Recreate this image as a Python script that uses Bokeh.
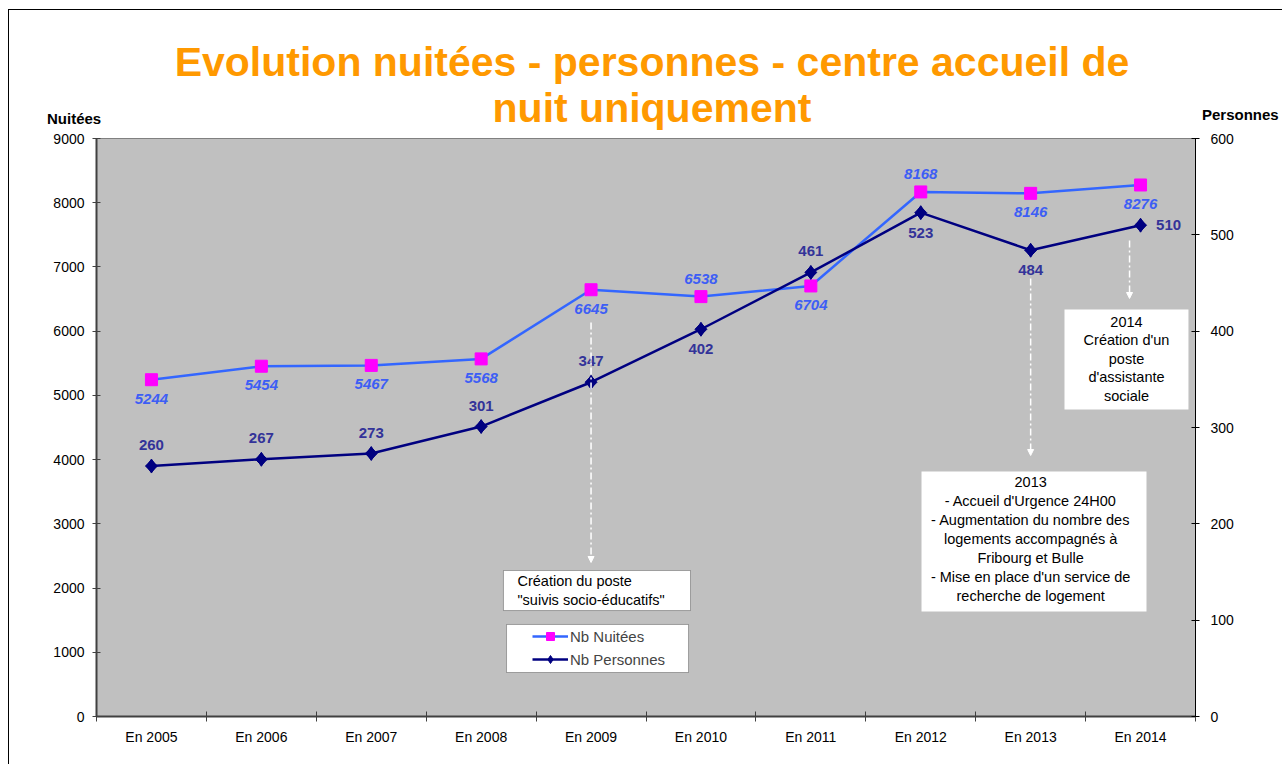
from bokeh.plotting import figure
from bokeh.layouts import column
from bokeh.models import (Range1d, LinearAxis, FixedTicker, Label, Arrow, NormalHead,
                          BoxAnnotation, Legend, LegendItem, ColumnDataSource, Div)
from bokeh.embed import file_html
from bokeh.resources import INLINE
from bokeh.core.properties import value

# ---------------- data ----------------
years = ["En 2005", "En 2006", "En 2007", "En 2008", "En 2009",
         "En 2010", "En 2011", "En 2012", "En 2013", "En 2014"]
nuitees = [5244, 5454, 5467, 5568, 6645, 6538, 6704, 8168, 8146, 8276]
personnes = [260, 267, 273, 301, 347, 402, 461, 523, 484, 510]
nuit_label_side = ["below", "below", "below", "below", "below",
                   "above", "below", "above", "below", "below"]
pers_label_side = ["above", "above", "above", "above", "above",
                   "below", "above", "below", "below", "right"]
left_ticks = [0, 1000, 2000, 3000, 4000, 5000, 6000, 7000, 8000, 9000]
right_ticks = [0, 100, 200, 300, 400, 500, 600]

title_lines = ["Evolution nuitées - personnes - centre accueil de", "nuit uniquement"]
left_title = "Nuitées"
right_title = "Personnes"
note_2009 = ["Création du poste", "\"suivis socio-éducatifs\""]
note_2013 = ["2013", "- Accueil d'Urgence 24H00", "- Augmentation du nombre des",
             "logements accompagnés à", "Fribourg et Bulle",
             "- Mise en place d'un service de", "recherche de logement"]
note_2014 = ["2014", "Création d'un", "poste", "d'assistante", "sociale"]

# ---------------- styles ----------------
FONT = "Liberation Sans"
BG = "#C0C0C0"
NUIT_LINE = "#3366FF"
NUIT_MARK = "#FF00FF"
PERS_LINE = "#000080"
NUIT_TXT = "#3D5EF5"
PERS_TXT = "#333399"
ORANGE = "#FF9900"

W = 1266
HEADER_W = 1282
TOP_H = 128
H = 764 - TOP_H

# ---------------- header (title + axis titles) ----------------
header_html = f"""
<div style="position:relative;width:{HEADER_W}px;height:{TOP_H}px;font-family:'Liberation Sans',Arial,sans-serif;">
  <div style="position:absolute;left:152px;width:1000px;top:39px;text-align:center;color:{ORANGE};
              font-weight:bold;font-size:41px;line-height:46px;white-space:nowrap;">
    {title_lines[0]}<br>{title_lines[1]}</div>
  <div style="position:absolute;left:47px;top:110px;font-weight:bold;font-size:15px;line-height:17px;color:#000;">{left_title}</div>
  <div style="position:absolute;left:1202px;top:106px;font-weight:bold;font-size:15px;line-height:17px;color:#000;white-space:nowrap;">{right_title}</div>
</div>
"""
header = Div(text=header_html, width=HEADER_W, height=TOP_H, margin=0)

# ---------------- figure ----------------
p = figure(width=W, height=H, x_range=Range1d(-0.5, 9.5), y_range=Range1d(0, 9000),
           output_backend="svg", toolbar_location=None, title=None,
           min_border_left=96, min_border_right=71, min_border_top=10, min_border_bottom=48)
p.extra_y_ranges = {"right": Range1d(0, 600)}
p.background_fill_color = BG
p.border_fill_color = None
p.outline_line_color = "#808080"
p.outline_line_width = 1
p.grid.visible = False

# x axis: labels at centers, ticks at boundaries
xt = FixedTicker(ticks=list(range(len(years))),
                 minor_ticks=[i - 0.5 for i in range(len(years) + 1)])
p.xaxis.ticker = xt
p.xaxis.major_label_overrides = {i: y for i, y in enumerate(years)}
p.xaxis.major_tick_line_color = None
p.xaxis.major_tick_in = 0
p.xaxis.major_tick_out = 0
p.xaxis.minor_tick_in = 5
p.xaxis.minor_tick_out = 5
p.xaxis.minor_tick_line_color = "#404040"
p.xaxis.axis_line_color = "#404040"
p.xaxis.axis_line_width = 2
p.xaxis.major_label_standoff = 7
p.xaxis.major_label_text_font = FONT
p.xaxis.major_label_text_font_size = "14px"
p.xaxis.major_label_text_color = "#000000"

# left axis
p.yaxis.ticker = FixedTicker(ticks=left_ticks)
p.yaxis.minor_tick_line_color = None
p.yaxis.major_tick_in = 4
p.yaxis.major_tick_out = 4
p.yaxis.major_tick_line_color = "#404040"
p.yaxis.axis_line_color = "#404040"
p.yaxis.axis_line_width = 2
p.yaxis.major_label_standoff = 8
p.yaxis.major_label_text_font = FONT
p.yaxis.major_label_text_font_size = "14px"
p.yaxis.major_label_text_color = "#000000"

# right axis
ra = LinearAxis(y_range_name="right", ticker=FixedTicker(ticks=right_ticks))
ra.minor_tick_line_color = None
ra.major_tick_in = 4
ra.major_tick_out = 4
ra.major_tick_line_color = "#000000"
ra.axis_line_color = "#000000"
ra.axis_line_width = 1
ra.major_label_standoff = 11
ra.major_label_text_font = FONT
ra.major_label_text_font_size = "14px"
ra.major_label_text_color = "#000000"
p.add_layout(ra, "right")

# ---------------- annotation boxes ----------------
def box(l, r, b, t, border):
    p.add_layout(BoxAnnotation(left=l, right=r, bottom=b, top=t,
                               fill_color="white", fill_alpha=1.0,
                               line_color="black" if border else None, line_width=1))

box(3.203, 4.905, 1650, 2273, True)     # 2009 note
box(3.231, 4.887, 685, 1433, True)      # legend box
box(7.007, 9.054, 1635, 3815, False)    # 2013 note
box(8.308, 9.436, 4780, 6337, False)    # 2014 note

# ---------------- arrows ----------------
def arrow(x, y0, y1):
    p.add_layout(Arrow(x_start=x, y_start=y0, x_end=x, y_end=y1,
                       line_color="white", line_width=1.5, line_dash="7 3 2 3",
                       end=NormalHead(size=6, fill_color="white", line_color="white")))

arrow(4.0, 6135, 2398)
arrow(8.0, 6820, 4064)
arrow(8.9, 7412, 6509)

# ---------------- series ----------------
xs = list(range(len(years)))
src = ColumnDataSource(dict(
    x=xs, nuit=nuitees, pers=personnes,
    nl=[str(v) for v in nuitees], pl=[str(v) for v in personnes],
    ny=[19 if s == "below" else -18 for s in nuit_label_side],
    px=[28 if s == "right" else 0 for s in pers_label_side],
    py=[0 if s == "right" else (20 if s == "below" else -21) for s in pers_label_side],
))

l1 = p.line("x", "nuit", source=src, line_color=NUIT_LINE, line_width=2.5)
m1 = p.scatter("x", "nuit", source=src, marker="square", size=12,
               fill_color=NUIT_MARK, line_color=NUIT_MARK)
l2 = p.line("x", "pers", source=src, y_range_name="right", line_color=PERS_LINE, line_width=2.5)
m2d = p.scatter("x", "pers", source=src, y_range_name="right", marker="diamond", size=14,
                fill_color=PERS_LINE, line_color=PERS_LINE)
m2 = p.scatter("x", "pers", source=src, y_range_name="right", marker="square", size=8.5,
               angle=0.7854, fill_color=PERS_LINE, line_color=PERS_LINE)

p.text("x", "nuit", text="nl", source=src, y_offset="ny",
       text_font=value(FONT), text_font_size="15px", text_font_style="bold italic",
       text_color=NUIT_TXT, text_align="center", text_baseline="middle")
p.text("x", "pers", text="pl", source=src, y_range_name="right", x_offset="px", y_offset="py",
       text_font=value(FONT), text_font_size="15px", text_font_style="bold",
       text_color=PERS_TXT, text_align="center", text_baseline="middle")

legend = Legend(items=[LegendItem(label="Nb Nuitées", renderers=[l1, m1]),
                       LegendItem(label="Nb Personnes", renderers=[l2, m2d])],
                location=(436, 47), padding=0, margin=0, spacing=3,
                glyph_width=36, glyph_height=20, label_height=20, label_standoff=2,
                border_line_color=None, background_fill_alpha=0,
                label_text_font=FONT, label_text_font_size="15px")
p.add_layout(legend, "center")

# ---------------- note texts ----------------
def lab(x, y, txt, size, align="center", xo=0, yo=0):
    p.add_layout(Label(x=x, y=y, text=txt, x_offset=xo, y_offset=yo,
                       text_font=FONT, text_font_size=size, text_color="#000000",
                       text_align=align, text_baseline="middle"))

for i, t in enumerate(note_2009):
    lab(3.203, 2273, t, "14.5px", align="left", xo=14, yo=-10 - 19 * i)
for i, t in enumerate(note_2013):
    lab(8.0, 3815, t, "14.5px", yo=-11 - 19 * i)
for i, t in enumerate(note_2014):
    lab(8.872, 6337, t, "14.5px", yo=-12 - 18.6 * i)

layout = column(header, p, spacing=0, styles={
    "background-image": "linear-gradient(#000,#000), linear-gradient(#000,#000)",
    "background-size": "1px 100%, 100% 1px",
    "background-position": "8px 9px, 8px 9px",
    "background-repeat": "no-repeat"})

open("out.html", "w").write(file_html(layout, INLINE))
